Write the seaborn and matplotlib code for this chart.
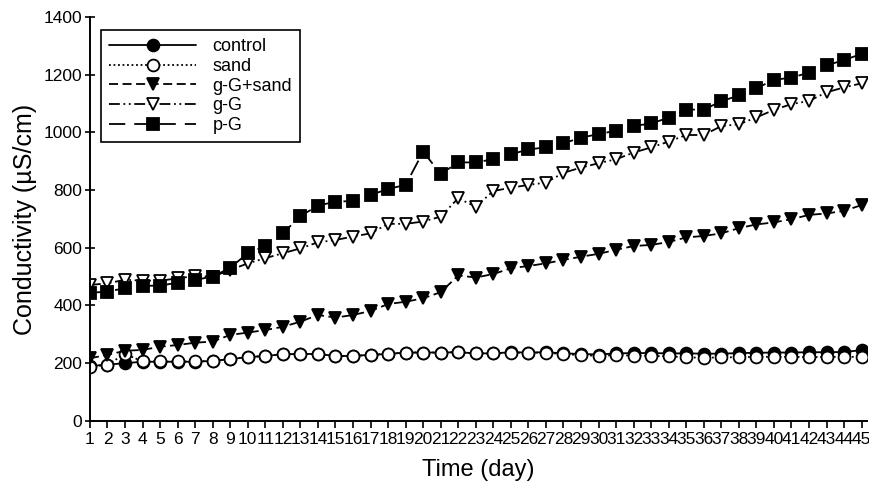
import numpy as np
import pandas as pd
import matplotlib
matplotlib.use("Agg")
import matplotlib.pyplot as plt
import seaborn as sns

## values, days 1..45
days = list(range(1, 46))

control = [190, 195, 200, 205, 205, 205, 205, 208, 214, 221, 225, 231, 232, 232, 225,
           225, 229, 232, 237, 237, 237, 238, 234, 234, 238, 237, 238, 234, 232, 230,
           234, 235, 235, 234, 234, 233, 233, 235, 236, 237, 237, 238, 238, 239, 245]
sand = [188, 195, 232, 206, 206, 206, 206, 208, 214, 221, 225, 231, 232, 232, 225,
        225, 229, 232, 237, 237, 237, 238, 234, 234, 237, 236, 237, 231, 228, 225,
        228, 226, 225, 224, 220, 219, 220, 221, 222, 222, 222, 221, 222, 222, 222]
gG_sand = [217, 229, 243, 246, 257, 263, 271, 275, 298, 306, 315, 326, 344, 367, 358,
           367, 381, 405, 413, 425, 446, 504, 497, 509, 529, 537, 546, 558, 569, 579,
           593, 606, 610, 620, 636, 641, 650, 668, 681, 688, 699, 714, 719, 728, 748]
gG = [471, 477, 489, 486, 486, 494, 502, 500, 523, 546, 564, 581, 598, 619, 627,
      639, 650, 683, 683, 691, 708, 772, 742, 797, 808, 818, 826, 860, 878, 893,
      907, 930, 948, 968, 991, 991, 1022, 1028, 1052, 1078, 1098, 1109, 1139, 1156, 1170]
pG = [444, 448, 460, 468, 469, 479, 489, 500, 531, 581, 606, 650, 710, 746, 760,
      762, 783, 804, 818, 933, 856, 896, 896, 907, 924, 941, 948, 962, 982, 994,
      1006, 1022, 1031, 1051, 1079, 1079, 1108, 1128, 1153, 1182, 1190, 1207, 1232, 1251, 1272]

series = [
    ("control", control, "o", "black", "-"),
    ("sand", sand, "o", "white", (0, (1, 1.5))),
    ("g-G+sand", gG_sand, "v", "black", (0, (5, 2.5))),
    ("g-G", gG, "v", "white", (0, (6, 2, 1, 2, 1, 2))),
    ("p-G", pG, "s", "black", (0, (9, 5))),
]

sns.set_style("ticks", {"axes.edgecolor": "black", "text.color": "black",
                        "axes.labelcolor": "black", "xtick.color": "black",
                        "ytick.color": "black"})
plt.rcParams['font.family'] = ['Liberation Sans', 'DejaVu Sans']

fig = plt.figure(figsize=(8.7, 4.86), dpi=100)
ax = fig.add_axes([0.1034, 0.134, 0.893, 0.831])

for name, vals, mk, fc, ls in series:
    df = pd.DataFrame({"day": days, "val": vals})
    sns.lineplot(data=df, x="day", y="val", ax=ax, color="black", label=name,
                 marker=mk, markersize=8.5, markerfacecolor=fc,
                 markeredgecolor="black", markeredgewidth=1.3,
                 linestyle=ls, linewidth=1.3)

ax.set_xlim(1, 45.3)
ax.set_ylim(0, 1400)
ax.set_xticks(days)
ax.set_xticklabels([str(d) for d in days], fontsize=12.5)
ax.set_yticks(range(0, 1401, 200))
ax.tick_params(axis="y", direction="inout", length=7, width=1.2, labelsize=12.5, pad=2)
ax.tick_params(axis="x", direction="out", length=5, width=1.2, pad=3)

ax.set_xlabel("Time (day)", fontsize=17, labelpad=9)
ax.set_ylabel("Conductivity (µS/cm)", fontsize=18, labelpad=5)

sns.despine(ax=ax)
ax.spines["left"].set_linewidth(1.4)
ax.spines["bottom"].set_linewidth(1.4)

leg = ax.legend(loc="upper left", bbox_to_anchor=(0.003, 0.99), fontsize=13,
                handlelength=4.8, frameon=True, fancybox=False, edgecolor="black",
                framealpha=1, borderpad=0.45, labelspacing=0.15, handletextpad=0.9)
leg.get_frame().set_linewidth(1.2)

fig.savefig("out.png", dpi=100)
